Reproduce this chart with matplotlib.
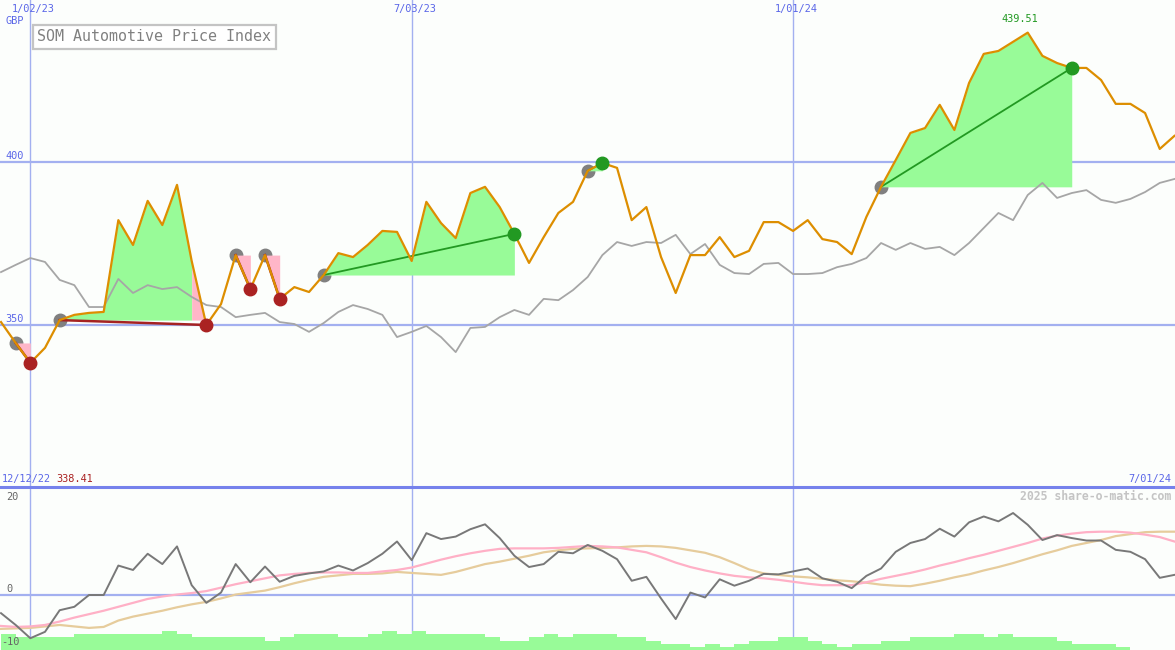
import numpy as np
import pandas as pd
import matplotlib
matplotlib.use('Agg')
import matplotlib.pyplot as plt

# weekly closes, 12/19/22 .. 7/01/24
dates = pd.date_range('2022-12-19', periods=81, freq='W-MON')

price = [350.9, 344.5, 338.41, 343.0, 351.5, 353.1, 353.7, 354.0, 382.1, 374.5,
         388.0, 380.6, 392.9, 369.6, 350.0, 356.4, 371.4, 361.0, 371.4, 358.0,
         361.6, 360.1, 365.3, 372.0, 370.8, 374.5, 378.8, 378.5, 369.6, 387.7,
         381.2, 376.6, 390.4, 392.3, 386.1, 377.9, 369.0, 376.9, 384.3, 387.7,
         397.2, 399.6, 398.1, 382.1, 386.1, 370.8, 359.8, 371.4, 371.4, 376.9,
         370.8, 372.7, 381.5, 381.5, 378.8, 382.1, 376.3, 375.4, 371.7, 383.1,
         392.3, 400.5, 408.8, 410.3, 417.4, 409.7, 424.1, 433.0, 433.9, 436.7,
         439.51, 432.4, 430.2, 428.7, 428.7, 425.0, 417.7, 417.7, 414.9, 403.9,
         407.9]

sector = [366.2, 368.4, 370.5, 369.3, 363.8, 362.2, 355.5, 355.5, 364.1, 359.8,
          362.2, 361.0, 361.6, 358.6, 356.1, 355.5, 352.4, 353.1, 353.7, 350.9,
          350.3, 347.9, 350.6, 354.0, 356.1, 354.9, 353.1, 346.3, 347.9, 349.7,
          346.3, 341.7, 349.1, 349.4, 352.4, 354.6, 353.1, 358.0, 357.6, 360.7,
          364.7, 371.4, 375.4, 374.2, 375.4, 375.1, 377.6, 371.7, 374.8, 368.4,
          365.9, 365.6, 368.7, 369.0, 365.6, 365.6, 365.9, 367.7, 368.7, 370.5,
          375.1, 373.0, 375.1, 373.3, 373.9, 371.4, 375.1, 379.7, 384.3, 382.1,
          389.8, 393.5, 388.9, 390.4, 391.3, 388.3, 387.4, 388.6, 390.7, 393.5,
          394.7]

momentum = [-3.7, -6.1, -8.8, -7.5, -3.1, -2.4, 0.0, 0.0, 6.0, 5.1,
            8.4, 6.3, 9.9, 2.0, -1.6, 0.5, 6.3, 2.6, 5.8, 2.7,
            3.9, 4.4, 4.8, 6.0, 5.0, 6.5, 8.4, 10.9, 7.1, 12.6,
            11.4, 11.9, 13.4, 14.4, 11.6, 8.0, 5.7, 6.3, 8.8, 8.5,
            10.2, 9.0, 7.3, 2.9, 3.7, -0.7, -4.9, 0.5, -0.5, 3.2,
            1.9, 2.9, 4.3, 4.2, 4.8, 5.4, 3.4, 2.7, 1.4, 3.9,
            5.4, 8.8, 10.6, 11.4, 13.5, 11.9, 14.8, 16.0, 15.0, 16.7,
            14.3, 11.2, 12.2, 11.6, 11.1, 11.1, 9.2, 8.8, 7.3, 3.5,
            4.1]

ma_fast = [-6.3, -6.5, -6.4, -6.1, -5.4, -4.6, -3.9, -3.2, -2.4, -1.6,
           -0.8, -0.3, 0.1, 0.4, 0.8, 1.5, 2.2, 2.8, 3.4, 4.0,
           4.3, 4.5, 4.6, 4.6, 4.5, 4.5, 4.8, 5.1, 5.6, 6.4,
           7.2, 7.9, 8.5, 9.0, 9.4, 9.5, 9.5, 9.5, 9.6, 9.8,
           10.0, 9.9, 9.7, 9.2, 8.7, 7.7, 6.6, 5.7, 5.0, 4.4,
           3.9, 3.6, 3.4, 3.1, 2.7, 2.3, 2.0, 2.0, 2.0, 2.6,
           3.3, 3.9, 4.5, 5.2, 6.0, 6.7, 7.5, 8.2, 9.0, 9.8,
           10.6, 11.5, 12.1, 12.5, 12.8, 12.9, 12.9, 12.7, 12.3, 11.8,
           10.9]

ma_slow = [-6.9, -6.8, -6.7, -6.4, -6.1, -6.4, -6.7, -6.5, -5.2, -4.4,
           -3.8, -3.2, -2.5, -1.9, -1.4, -0.7, 0.1, 0.5, 0.9, 1.6,
           2.4, 3.1, 3.7, 4.0, 4.3, 4.3, 4.4, 4.7, 4.5, 4.3,
           4.1, 4.7, 5.5, 6.3, 6.8, 7.4, 8.0, 8.7, 9.1, 9.4,
           9.5, 9.6, 9.7, 9.9, 10.0, 9.9, 9.6, 9.1, 8.6, 7.7,
           6.5, 5.2, 4.4, 4.1, 3.8, 3.6, 3.3, 3.0, 2.8, 2.5,
           2.1, 1.9, 1.8, 2.3, 2.9, 3.6, 4.2, 5.0, 5.7, 6.5,
           7.4, 8.3, 9.1, 10.0, 10.6, 11.2, 12.0, 12.4, 12.8, 12.9,
           12.9]

# volume levels per week interval
volume = [5, 4, 4, 4, 4, 5, 5, 5, 5, 5, 5, 6, 5, 4, 4, 4, 4, 4, 3, 4,
          5, 5, 5, 4, 4, 5, 6, 5, 6, 5, 5, 5, 5, 4, 3, 3, 4, 5, 4, 5,
          5, 5, 4, 4, 3, 2, 2, 1, 2, 1, 2, 3, 3, 4, 4, 3, 2, 1, 2, 2,
          3, 3, 4, 4, 4, 5, 5, 4, 5, 4, 4, 4, 3, 2, 2, 2, 1, 0, 0, 0]

# trades: entry week, exit week
buys = [1, 4, 16, 18, 22, 40, 60]
sells = [2, 14, 17, 19, 35, 41, 73]

price_grid = [350, 400]
osc_grid = [0]
osc_labels = [20, 0, -10]
vline_dates = ['2023-01-02', '2023-07-03', '2024-01-01']
vline_labels = ['1/02/23', '7/03/23', '1/01/24']
start_label = '12/12/22'
end_label = '7/01/24'

BG = '#fcfefc'
GRID = '#a3b0f0'
BLUE = '#5a66e8'
GREEN_FILL = '#98fb98'
PINK_FILL = '#ffb6c8'
MONO = 'DejaVu Sans Mono'

price = np.array(price)
x = np.arange(len(price))
vx = [int(np.where(dates == pd.Timestamp(d))[0][0]) for d in vline_dates]

fig = plt.figure(figsize=(11.75, 6.5), dpi=100, facecolor=BG)
ax = fig.add_axes([0, 163 / 650, 1, 487 / 650], facecolor=BG)
ax2 = fig.add_axes([0, 0, 1, 163 / 650], facecolor=BG)

xlim = (-0.068, 80.04)
for a in (ax, ax2):
    a.set_xlim(*xlim)
    a.set_xticks([])
    a.set_yticks([])
    for s in a.spines.values():
        s.set_visible(False)
    for v in vx:
        a.axvline(v, color=GRID, lw=1.0, zorder=1)

ax.set_ylim(300.4, 449.5)
ax2.set_ylim(-11.2, 22.0)
ax2.spines['top'].set_visible(True)
ax2.spines['top'].set_color('#7682ec')
ax2.spines['top'].set_linewidth(2.2)

for g in price_grid:
    ax.axhline(g, color=GRID, lw=1.6, zorder=1)

# entry markers sit underneath the fills
ax.plot(buys, price[buys], 'o', color='#808080', ms=9, zorder=2)

for a_i, b_i in zip(buys, sells):
    lvl = price[a_i]
    # group consecutive weeks of the same colour into one patch
    runs = []
    for j in range(a_i, b_i):
        col = GREEN_FILL if price[j + 1] >= lvl else PINK_FILL
        if runs and runs[-1][2] == col:
            runs[-1][1] = j + 1
        else:
            runs.append([j, j + 1, col])
    for j0, j1, col in runs:
        ax.fill_between(x[j0:j1 + 1], lvl, price[j0:j1 + 1], color=col, lw=0, zorder=3)
    win = price[b_i] >= lvl
    ax.plot([a_i, b_i], [lvl, price[b_i]], color='#229922' if win else '#a52222',
            lw=1.3 if win else 1.8, zorder=5)

ax.plot(x, sector, color='#a6a6a6', lw=1.3, zorder=4)
ax.plot(x, price, color='#dd8e00', lw=1.6, zorder=6)

for a_i, b_i in zip(buys, sells):
    col = '#229922' if price[b_i] >= price[a_i] else '#aa2222'
    ax.plot(b_i, price[b_i], 'o', color=col, ms=9, zorder=7)

imax = int(np.argmax(price))
ax.annotate(f'{price[imax]:.2f}', xy=(imax, price[imax]), xytext=(-5.5, 9.5),
            textcoords='offset points', ha='center', va='center',
            color='#229922', fontsize=7.4, family=MONO)
imin = int(np.argmin(price))

# labels
lab = dict(fontsize=7.4, family=MONO, color=BLUE)
for v, t in zip(vx, vline_labels):
    ax.annotate(t, xy=(v, 1), xycoords=('data', 'axes fraction'), xytext=(2, -6.3),
                textcoords='offset points', ha='center', va='center', **lab)
ax.annotate('GBP', xy=(0, 1), xycoords='axes fraction', xytext=(3.8, -15.4),
            textcoords='offset points', ha='left', va='center', **lab)
for g in price_grid:
    ax.annotate(str(g), xy=(0, g), xycoords=('axes fraction', 'data'), xytext=(3.8, 2.2),
                textcoords='offset points', ha='left', va='baseline', **lab)
ax.annotate(start_label, xy=(0, 0), xycoords='axes fraction', xytext=(1.2, 5.8),
            textcoords='offset points', ha='left', va='center', **lab)
ax.annotate(f'{price[imin]:.2f}', xy=(0, 0), xycoords='axes fraction', xytext=(40.3, 5.8),
            textcoords='offset points', ha='left', va='center', fontsize=7.4,
            family=MONO, color='#aa2222')
ax.annotate(end_label, xy=(1, 0), xycoords='axes fraction', xytext=(-2.4, 5.8),
            textcoords='offset points', ha='right', va='center', **lab)

fig.text(37.3 / 1175, 1 - 36.5 / 650, 'SOM Automotive Price Index', ha='left', va='center',
         fontsize=10.8, family=MONO, color='#808080',
         bbox=dict(boxstyle='square,pad=0.3', fc='white', ec='#c4c4c4', lw=1.6))

# lower panel
for g in osc_grid:
    ax2.axhline(g, color=GRID, lw=1.6, zorder=1)
vol_unit = 0.643
ax2.bar(np.arange(len(volume)), np.array(volume) * vol_unit, width=1.0, align='edge',
        bottom=-11.2, color=GREEN_FILL, lw=0, zorder=2)
ax2.plot(x, ma_slow, color='#e6cc9c', lw=1.6, zorder=3)
ax2.plot(x, ma_fast, color='#ffb0c6', lw=1.6, zorder=3)
ax2.plot(x, momentum, color='#787878', lw=1.4, zorder=4)

lab_off = {20: 0.0, 0: 4.5, -10: 1.5}
for g in osc_labels:
    ax2.annotate(str(g), xy=(0, g), xycoords=('axes fraction', 'data'),
                 xytext=(1.2 if g < 0 else 4.3, lab_off[g]), textcoords='offset points',
                 ha='left', va='center', fontsize=7.4, family=MONO, color='#666666')
ax2.annotate('2025 share-o-matic.com', xy=(1, 1), xycoords='axes fraction',
             xytext=(-2.4, -6.6), textcoords='offset points', ha='right', va='center',
             fontsize=8.3, family=MONO, fontweight='bold', color='#c4c4c4')

fig.savefig('out.png', dpi=100, facecolor=BG)
